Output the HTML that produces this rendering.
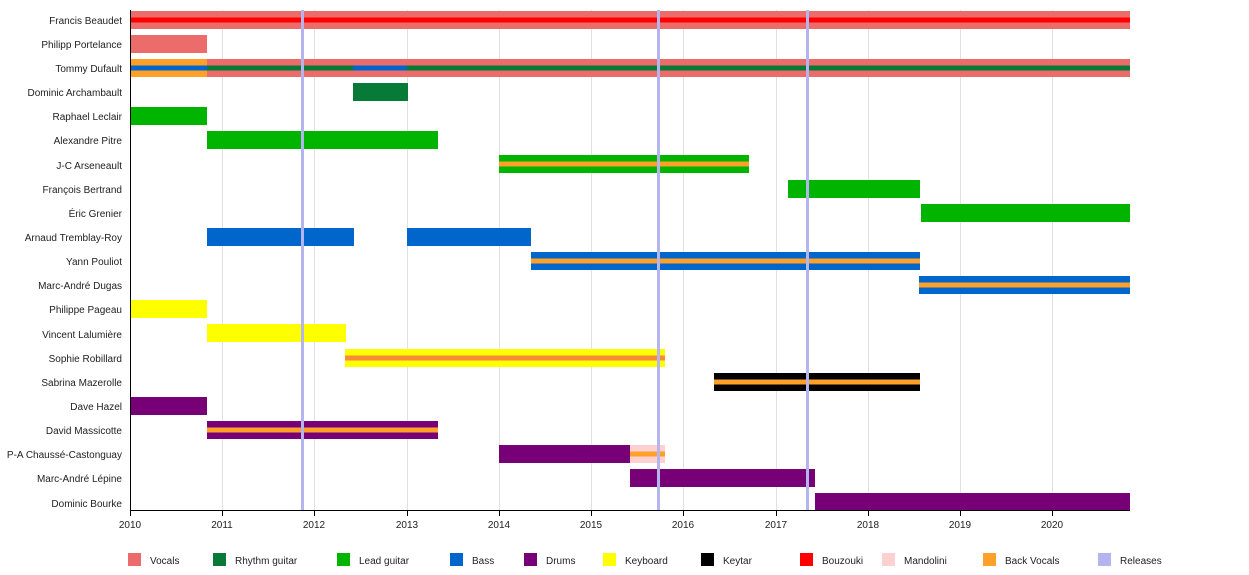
<!DOCTYPE html>
<html><head><meta charset="utf-8"><style>
html,body{margin:0;padding:0;background:#fff;}
svg text{font-family:"Liberation Sans",sans-serif;font-size:10px;fill:#222;}
</style></head><body>
<svg width="1249" height="570" xmlns="http://www.w3.org/2000/svg">
<g stroke="#e2e2e2" stroke-width="1">
<line x1="222.5" y1="10" x2="222.5" y2="510"/><line x1="314.5" y1="10" x2="314.5" y2="510"/><line x1="407.5" y1="10" x2="407.5" y2="510"/><line x1="499.5" y1="10" x2="499.5" y2="510"/><line x1="591.5" y1="10" x2="591.5" y2="510"/><line x1="683.5" y1="10" x2="683.5" y2="510"/><line x1="776.5" y1="10" x2="776.5" y2="510"/><line x1="868.5" y1="10" x2="868.5" y2="510"/><line x1="960.5" y1="10" x2="960.5" y2="510"/><line x1="1052.5" y1="10" x2="1052.5" y2="510"/>
</g>
<g>
<rect x="130" y="11" width="1000" height="18" fill="#ec6b6b"/><rect x="130" y="17.5" width="1000" height="5" fill="#ff0000"/>
<rect x="130" y="35" width="77" height="18" fill="#ec6b6b"/>
<rect x="130" y="59" width="77" height="18" fill="#ffa028"/><rect x="130" y="65.5" width="77" height="5" fill="#0066cc"/>
<rect x="207" y="59" width="923" height="18" fill="#ec6b6b"/><rect x="207" y="65.5" width="923" height="5" fill="#067a36"/><rect x="353" y="65.5" width="54" height="5" fill="#0066cc"/>
<rect x="353" y="83" width="55" height="18" fill="#067a36"/>
<rect x="130" y="107" width="77" height="18" fill="#00b400"/>
<rect x="207" y="131" width="231" height="18" fill="#00b400"/>
<rect x="499" y="155" width="250" height="18" fill="#00b400"/><rect x="499" y="161.5" width="250" height="5" fill="#ffa028"/>
<rect x="788" y="180" width="132" height="18" fill="#00b400"/>
<rect x="921" y="204" width="209" height="18" fill="#00b400"/>
<rect x="207" y="228" width="147" height="18" fill="#0066cc"/><rect x="407" y="228" width="124" height="18" fill="#0066cc"/>
<rect x="531" y="252" width="389" height="18" fill="#0066cc"/><rect x="531" y="258.5" width="389" height="5" fill="#ffa028"/>
<rect x="919" y="276" width="211" height="18" fill="#0066cc"/><rect x="919" y="282.5" width="211" height="5" fill="#ffa028"/>
<rect x="130" y="300" width="77" height="18" fill="#ffff00"/>
<rect x="207" y="324" width="139" height="18" fill="#ffff00"/>
<rect x="345" y="349" width="320" height="18" fill="#ffff00"/><rect x="345" y="355.5" width="320" height="5" fill="#f98a3a"/>
<rect x="714" y="373" width="206" height="18" fill="#000"/><rect x="714" y="379.5" width="206" height="5" fill="#ffa028"/>
<rect x="130" y="397" width="77" height="18" fill="#770077"/>
<rect x="207" y="421" width="231" height="18" fill="#770077"/><rect x="207" y="427.5" width="231" height="5" fill="#ffa028"/>
<rect x="499" y="445" width="131" height="18" fill="#770077"/><rect x="630" y="445" width="35" height="18" fill="#ffd0d0"/><rect x="630" y="451.5" width="35" height="5" fill="#ffa028"/>
<rect x="630" y="469" width="185" height="18" fill="#770077"/>
<rect x="815" y="493" width="315" height="18" fill="#770077"/>
</g>
<g fill="#b4b4ee"><rect x="301" y="10" width="3" height="500"/><rect x="657" y="10" width="3" height="500"/><rect x="806" y="10" width="3" height="500"/></g>
<line x1="130.5" y1="10" x2="130.5" y2="510" stroke="#000"/>
<line x1="130" y1="510.5" x2="1130" y2="510.5" stroke="#000"/>
<g stroke="#000" stroke-width="1">
<line x1="130.5" y1="510" x2="130.5" y2="516"/><line x1="222.5" y1="510" x2="222.5" y2="516"/><line x1="314.5" y1="510" x2="314.5" y2="516"/><line x1="407.5" y1="510" x2="407.5" y2="516"/><line x1="499.5" y1="510" x2="499.5" y2="516"/><line x1="591.5" y1="510" x2="591.5" y2="516"/><line x1="683.5" y1="510" x2="683.5" y2="516"/><line x1="776.5" y1="510" x2="776.5" y2="516"/><line x1="868.5" y1="510" x2="868.5" y2="516"/><line x1="960.5" y1="510" x2="960.5" y2="516"/><line x1="1052.5" y1="510" x2="1052.5" y2="516"/>
</g>
<g text-anchor="end">
<text x="122" y="24">Francis Beaudet</text><text x="122" y="48">Philipp Portelance</text><text x="122" y="72">Tommy Dufault</text><text x="122" y="96">Dominic Archambault</text><text x="122" y="120">Raphael Leclair</text><text x="122" y="144">Alexandre Pitre</text><text x="122" y="169">J-C Arseneault</text><text x="122" y="193">François Bertrand</text><text x="122" y="217">Éric Grenier</text><text x="122" y="241">Arnaud Tremblay-Roy</text><text x="122" y="265">Yann Pouliot</text><text x="122" y="289">Marc-André Dugas</text><text x="122" y="313">Philippe Pageau</text><text x="122" y="338">Vincent Lalumière</text><text x="122" y="362">Sophie Robillard</text><text x="122" y="386">Sabrina Mazerolle</text><text x="122" y="410">Dave Hazel</text><text x="122" y="434">David Massicotte</text><text x="122" y="458">P-A Chaussé-Castonguay</text><text x="122" y="482">Marc-André Lépine</text><text x="122" y="507">Dominic Bourke</text>
</g>
<g text-anchor="middle">
<text x="130" y="528">2010</text><text x="222" y="528">2011</text><text x="314" y="528">2012</text><text x="407" y="528">2013</text><text x="499" y="528">2014</text><text x="591" y="528">2015</text><text x="683" y="528">2016</text><text x="776" y="528">2017</text><text x="868" y="528">2018</text><text x="960" y="528">2019</text><text x="1052" y="528">2020</text>
</g>
<g>
<rect x="128" y="553" width="13" height="13" fill="#ec6b6b"/><text x="150" y="564">Vocals</text>
<rect x="213" y="553" width="13" height="13" fill="#067a36"/><text x="235" y="564">Rhythm guitar</text>
<rect x="337" y="553" width="13" height="13" fill="#00b400"/><text x="359" y="564">Lead guitar</text>
<rect x="450" y="553" width="13" height="13" fill="#0066cc"/><text x="472" y="564">Bass</text>
<rect x="524" y="553" width="13" height="13" fill="#770077"/><text x="546" y="564">Drums</text>
<rect x="603" y="553" width="13" height="13" fill="#ffff00"/><text x="625" y="564">Keyboard</text>
<rect x="701" y="553" width="13" height="13" fill="#000"/><text x="723" y="564">Keytar</text>
<rect x="800" y="553" width="13" height="13" fill="#ff0000"/><text x="822" y="564">Bouzouki</text>
<rect x="882" y="553" width="13" height="13" fill="#ffd0d0"/><text x="904" y="564">Mandolini</text>
<rect x="983" y="553" width="13" height="13" fill="#ffa028"/><text x="1005" y="564">Back Vocals</text>
<rect x="1098" y="553" width="13" height="13" fill="#b4b4ee"/><text x="1120" y="564">Releases</text>
</g>
</svg>
</body></html>
